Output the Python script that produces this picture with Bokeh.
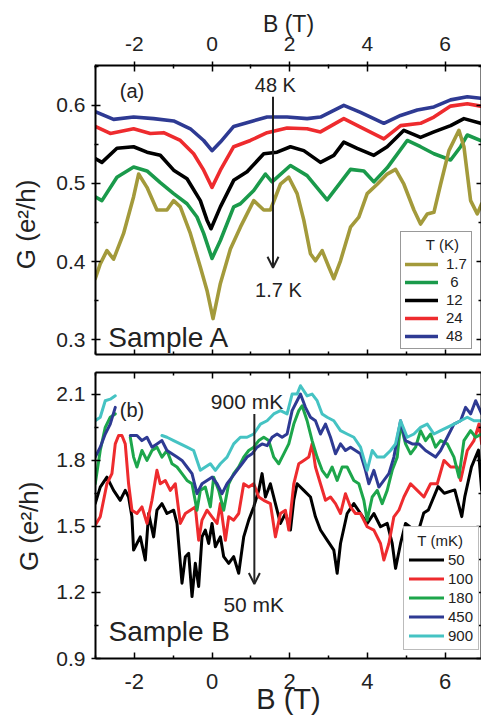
from bokeh.plotting import figure
from bokeh.models import LinearAxis, FixedTicker, Range1d, Legend, LegendItem, Label, Arrow, OpenHead
from bokeh.layouts import column
from bokeh.embed import file_html
from bokeh.resources import INLINE

nan = float("nan")

# ---------------- data: panel (a), Sample A ----------------
b_48K = [-3.007, -2.534, -2.019, -1.503, -0.988, -0.558, -0.215, 0.0, 0.215, 0.558, 0.988, 1.418, 1.933,
         2.448, 2.792, 3.393, 3.823, 4.424, 4.854, 5.284, 5.713, 6.143, 6.572, 6.916]
g_48K = [0.592, 0.582, 0.585, 0.583, 0.580, 0.570, 0.555, 0.542, 0.553, 0.573, 0.579, 0.585, 0.585,
         0.583, 0.585, 0.600, 0.591, 0.577, 0.587, 0.594, 0.598, 0.607, 0.611, 0.609]

b_24K = [-3.007, -2.62, -2.019, -1.589, -1.246, -0.816, -0.473, -0.215, 0.0, 0.215, 0.558, 0.988, 1.418,
         1.933, 2.448, 2.792, 3.393, 3.823, 4.424, 4.854, 5.369, 5.713, 6.143, 6.572, 6.916]
g_24K = [0.573, 0.564, 0.570, 0.564, 0.565, 0.555, 0.538, 0.517, 0.495, 0.517, 0.547, 0.555, 0.565,
         0.571, 0.570, 0.566, 0.583, 0.572, 0.557, 0.574, 0.577, 0.585, 0.599, 0.602, 0.599]

b_12K = [-3.007, -2.835, -2.448, -2.019, -1.675, -1.332, -0.988, -0.644, -0.301, -0.129, -0.026, 0.215,
         0.558, 0.902, 1.332, 1.675, 2.019, 2.363, 2.792, 3.136, 3.393, 3.737, 4.167, 4.510, 4.940,
         5.369, 5.713, 6.143, 6.486, 6.916]
g_12K = [0.532, 0.527, 0.545, 0.547, 0.540, 0.536, 0.517, 0.506, 0.478, 0.453, 0.442, 0.470,
         0.504, 0.515, 0.538, 0.540, 0.547, 0.542, 0.527, 0.536, 0.553, 0.545, 0.536, 0.547, 0.568,
         0.559, 0.566, 0.574, 0.583, 0.577]

b_6K = [-3.007, -2.835, -2.448, -2.019, -1.675, -1.332, -0.988, -0.644, -0.387, -0.215, 0.0, 0.215,
        0.558, 0.730, 1.074, 1.375, 1.546, 2.019, 2.448, 2.964, 3.565, 3.909, 4.167, 4.510, 5.026,
        5.369, 5.713, 6.143, 6.400, 6.572, 6.916]
g_6K = [0.483, 0.478, 0.508, 0.521, 0.516, 0.501, 0.487, 0.474, 0.457, 0.436, 0.404, 0.427,
        0.470, 0.474, 0.491, 0.512, 0.502, 0.523, 0.510, 0.479, 0.518, 0.516, 0.502, 0.520, 0.555,
        0.547, 0.538, 0.530, 0.547, 0.562, 0.555]

b_1p7K = [-3.007, -2.878, -2.706, -2.534, -2.277, -2.019, -1.890, -1.675, -1.418, -1.160, -0.988,
          -0.816, -0.558, -0.301, -0.129, 0.026, 0.215, 0.473, 0.730, 1.074, 1.332, 1.503, 1.761,
          1.976, 2.191, 2.363, 2.534, 2.663, 2.835, 3.007, 3.136, 3.308, 3.565, 3.780, 3.995, 4.253,
          4.510, 4.725, 4.940, 5.198, 5.369, 5.541, 5.713, 5.885, 6.100, 6.357, 6.486, 6.658, 6.830, 6.942]
g_1p7K = [0.378, 0.397, 0.414, 0.403, 0.436, 0.483, 0.512, 0.495, 0.466, 0.466, 0.478,
          0.470, 0.436, 0.393, 0.363, 0.327, 0.372, 0.416, 0.444, 0.478, 0.466, 0.466, 0.499,
          0.508, 0.487, 0.453, 0.410, 0.401, 0.414, 0.393, 0.378, 0.401, 0.444, 0.457, 0.487, 0.499,
          0.512, 0.518, 0.499, 0.466, 0.448, 0.461, 0.463, 0.499, 0.542, 0.568, 0.547, 0.478, 0.461, 0.474]

# ---------------- data: panel (b), Sample B ----------------
b_50 = [-3.007, -2.878, -2.706, -2.534, -2.363, -2.234, -2.148, -2.062, -2.019, -1.933, -1.847, -1.718,
        -1.632, -1.503, -1.418, -1.289, -1.160, -0.988, -0.902, -0.773, -0.687, -0.601, -0.515, -0.430,
        -0.344, -0.258, -0.172, -0.086, 0.0, 0.086, 0.215, 0.301, 0.430, 0.558, 0.687, 0.816, 0.945,
        1.074, 1.203, 1.289, 1.375, 1.503, 1.632, 1.761, 1.890, 2.019, 2.105, 2.191, 2.363, 2.534,
        2.663, 2.792, 2.964, 3.136, 3.222, 3.308, 3.479, 3.651, 3.823, 3.995, 4.167, 4.338, 4.510,
        4.639, 4.725, 4.854, 4.983, 5.30, 5.45, 5.57, 5.82, 5.98, 6.25, 6.43, 6.51, 6.68, 6.86, 6.94]
g_50 = [1.603, 1.678, 1.723, 1.663, 1.618, 1.663, 1.633, 1.543, 1.392, 1.422, 1.452, 1.347,
        1.558, 1.452, 1.573, 1.603, 1.558, 1.573, 1.513, 1.242, 1.362, 1.377, 1.181, 1.332,
        1.227, 1.452, 1.483, 1.422, 1.513, 1.407, 1.452, 1.362, 1.332, 1.362, 1.287, 1.452, 1.528,
        1.588, 1.663, 1.739, 1.633, 1.693, 1.603, 1.513, 1.558, 1.483, 1.618, 1.693, 1.663, 1.633,
        1.543, 1.483, 1.437, 1.392, 1.287, 1.422, 1.558, 1.603, 1.558, 1.513, 1.558, 1.498, 1.513,
        1.422, 1.309, 1.422, 1.513, 1.47, 1.56, 1.574, 1.68, 1.65, 1.665, 1.544, 1.636, 1.77, 1.846, 1.665]

b_100 = [-3.007, -2.878, -2.706, -2.577, -2.491, -2.405, -2.320, -2.234, -2.148, -2.062, -1.933, -1.804,
         -1.675, -1.546, -1.418, -1.332, -1.203, -1.074, -0.945, -0.816, -0.687, -0.558, -0.430, -0.344,
         -0.258, -0.129, 0.0, 0.129, 0.215, 0.344, 0.430, 0.558, 0.687, 0.816, 0.945, 1.074, 1.203,
         1.332, 1.503, 1.632, 1.761, 1.890, 1.976, 2.105, 2.234, 2.363, 2.491, 2.577, 2.663, 2.792,
         2.921, 3.050, 3.179, 3.308, 3.436, 3.565, 3.694, 3.823, 3.995, 4.167, 4.338, 4.424, 4.553,
         4.682, 4.811, 4.940, 5.112, 5.284, 5.455, 5.627, 5.799, 5.971, 6.143, 6.314, 6.400, 6.572,
         6.744, 6.873, 6.942]
g_100 = [1.505, 1.543, 1.693, 1.739, 1.874, 1.912, 1.912, 1.874, 1.693, 1.573, 1.558, 1.588,
         1.513, 1.618, 1.754, 1.693, 1.708, 1.663, 1.693, 1.513, 1.558, 1.573, 1.588, 1.437,
         1.528, 1.573, 1.543, 1.513, 1.603, 1.437, 1.543, 1.528, 1.558, 1.693, 1.678, 1.693, 1.633,
         1.618, 1.603, 1.452, 1.558, 1.573, 1.483, 1.693, 1.784, 1.799, 1.814, 1.874, 1.769, 1.693,
         1.618, 1.633, 1.603, 1.558, 1.648, 1.588, 1.558, 1.558, 1.498, 1.483, 1.422, 1.347, 1.422,
         1.543, 1.573, 1.633, 1.693, 1.663, 1.633, 1.693, 1.693, 1.799, 1.769, 1.769, 1.708, 1.844,
         1.889, 1.964, 1.874]

b_180 = [-3.007, -2.878, -2.749, -2.620, -2.491, nan, -2.105, -2.019, -1.933, -1.804, -1.675, -1.546,
         -1.418, -1.289, -1.160, -1.031, -0.902, -0.773, -0.644, -0.515, -0.387, -0.301, -0.172, -0.043,
         0.043, 0.172, 0.301, 0.430, 0.558, 0.687, 0.816, 0.945, 1.074, 1.203, 1.332, 1.460, 1.589,
         1.718, 1.847, 1.976, 2.105, 2.234, 2.320, 2.448, 2.577, 2.706, 2.835, 2.964, 3.093, 3.222,
         3.351, 3.479, 3.651, 3.780, 3.909, 3.995, 4.124, 4.253, 4.381, 4.510, 4.639, 4.768, 4.854,
         4.983, 5.112, 5.241, 5.369, 5.498, 5.627, 5.756, 5.885, 6.057, 6.229, 6.357, 6.486, 6.658,
         6.787, 6.942]
g_180 = [1.693, 1.844, 1.949, 1.995, 2.010, nan, 1.904, 1.814, 1.769, 1.844, 1.799, 1.844,
         1.859, 1.814, 1.844, 1.784, 1.769, 1.739, 1.708, 1.693, 1.573, 1.663, 1.678, 1.588,
         1.723, 1.663, 1.573, 1.693, 1.739, 1.769, 1.814, 1.844, 1.859, 1.889, 1.904, 1.889, 1.814,
         1.784, 1.829, 1.874, 1.964, 2.025, 2.047, 1.979, 1.889, 1.814, 1.754, 1.723, 1.769, 1.708,
         1.769, 1.769, 1.708, 1.693, 1.618, 1.528, 1.633, 1.663, 1.603, 1.663, 1.754, 1.814, 1.964,
         1.874, 1.829, 1.859, 1.934, 1.889, 1.919, 1.859, 1.889, 1.874, 1.814, 1.723, 1.889, 1.934,
         1.904, 1.919]

b_450 = [-3.007, -2.878, -2.749, -2.620, -2.491, nan, -2.105, -1.933, -1.804, -1.675, -1.546, -1.418,
         -1.289, -1.160, -1.031, -0.902, -0.773, -0.644, -0.515, -0.387, -0.258, -0.129, 0.0, 0.129,
         0.258, 0.387, 0.515, 0.644, 0.773, 0.902, 1.031, 1.160, 1.289, 1.418, 1.546, 1.675, 1.804,
         1.933, 2.062, 2.191, 2.277, 2.405, 2.534, 2.663, 2.792, 2.921, 3.050, 3.179, 3.308, 3.436,
         3.565, 3.694, 3.823, 3.952, 4.038, 4.167, 4.296, 4.424, 4.553, 4.682, 4.854, 4.983, 5.155,
         5.326, 5.498, 5.627, 5.756, 5.885, 6.057, 6.229, 6.400, 6.529, 6.658, 6.787, 6.942]
g_450 = [1.814, 1.859, 1.919, 1.964, 2.040, nan, 1.912, 1.912, 1.889, 1.904, 1.859, 1.874,
         1.889, 1.844, 1.829, 1.814, 1.799, 1.769, 1.739, 1.648, 1.693, 1.708, 1.723, 1.693,
         1.648, 1.693, 1.723, 1.754, 1.784, 1.814, 1.829, 1.859, 1.874, 1.866, 1.904, 1.919, 1.904,
         1.919, 2.025, 2.070, 2.100, 2.040, 1.995, 1.979, 1.919, 1.964, 1.904, 1.829, 1.874, 1.844,
         1.859, 1.844, 1.829, 1.754, 1.693, 1.754, 1.678, 1.708, 1.739, 1.814, 1.979, 1.889, 1.874,
         1.874, 1.844, 1.829, 1.814, 1.844, 1.904, 1.964, 1.979, 2.040, 2.010, 2.070, 2.010]

b_900 = [-3.007, -2.878, -2.749, -2.620, -2.491, nan, -1.289, -1.160, -0.988, -0.816, -0.644, -0.473,
         -0.301, -0.172, -0.043, 0.086, 0.215, 0.387, 0.558, 0.730, 0.902, 1.074, 1.246, 1.418, 1.589,
         1.761, 1.933, 2.062, 2.191, 2.277, 2.448, 2.577, 2.706, 2.835, 2.964, 3.136, 3.308, 3.479,
         3.651, 3.823, 3.995, 4.124, 4.253, 4.424, 4.596, 4.725, 4.854, 5.026, 5.198, 5.369, 5.541,
         5.713, 5.885, 6.057, 6.229, 6.400, 6.572, 6.744, 6.942]
g_900 = [1.979, 1.995, 2.070, 2.077, 2.092, nan, 1.912, 1.904, 1.889, 1.874, 1.859, 1.844,
         1.754, 1.769, 1.784, 1.754, 1.784, 1.814, 1.874, 1.904, 1.904, 1.919, 1.964, 1.979, 2.010,
         2.025, 2.010, 2.100, 2.100, 2.138, 2.092, 2.100, 2.070, 2.010, 1.995, 1.979, 1.934, 1.919,
         1.904, 1.859, 1.754, 1.844, 1.814, 1.814, 1.844, 1.874, 1.979, 1.904, 1.919, 1.949, 1.964,
         1.919, 1.934, 1.949, 1.964, 1.979, 1.995, 1.979, 1.979]

# ---------------- ticks / labels ----------------
x_ticks = [-2, 0, 2, 4, 6]
x_minor = [-3, -1, 1, 3, 5, 7]
x_tick_text = {-2: "-2", 0: "0", 2: "2", 4: "4", 6: "6"}
ya_ticks = [0.3, 0.4, 0.5, 0.6]
ya_minor = [0.35, 0.45, 0.55, 0.65]
yb_ticks = [0.9, 1.2, 1.5, 1.8, 2.1]
yb_minor = [1.05, 1.35, 1.65, 1.95]

series_a = [("48", b_48K, g_48K, "#2E3A93"),
            ("24", b_24K, g_24K, "#EE2B2E"),
            ("12", b_12K, g_12K, "#000000"),
            ("\u00a06", b_6K, g_6K, "#1A9A4B"),
            ("1.7", b_1p7K, g_1p7K, "#A39A3B")]
series_b = [("50", b_50, g_50, "#000000"),
            ("100", b_100, g_100, "#EE2B2E"),
            ("180", b_180, g_180, "#1DA64B"),
            ("450", b_450, g_450, "#2E3A93"),
            ("900", b_900, g_900, "#45C3C3")]

FONT = "Liberation Sans"
TXT = "#222222"
NB = "\u00a0"


def cfg_axis(ax, major, minor, labels, tin, tout, size="21px", standoff=5):
    ax.ticker = FixedTicker(ticks=major, minor_ticks=minor)
    ax.axis_line_width = 2
    ax.axis_line_color = "black"
    ax.major_tick_in = tin
    ax.major_tick_out = tout
    ax.minor_tick_in = 3
    ax.minor_tick_out = 1 if tout else 0
    ax.major_tick_line_width = 1.5
    ax.minor_tick_line_width = 1.5
    ax.major_tick_line_color = "black"
    ax.minor_tick_line_color = "black"
    ax.major_label_text_font = FONT
    ax.axis_label_text_font = FONT
    ax.axis_label_text_color = TXT
    ax.axis_label_text_font_style = "normal"
    if labels:
        ax.major_label_text_color = TXT
        ax.major_label_text_font_size = size
        ax.major_label_standoff = standoff
    else:
        ax.major_label_text_color = None
        ax.major_label_text_font_size = "1px"
        ax.major_label_standoff = 0


def add_label(p, x, y, text, size, align="center"):
    p.add_layout(Label(x=x, y=y, text=text, text_align=align, text_baseline="alphabetic",
                       text_font=FONT, text_font_size=size, text_color=TXT))


W = 481
X_END = 6.938

# ---------------- panel (a) ----------------
p1 = figure(width=W, height=363, x_range=Range1d(-3.0, X_END), y_range=Range1d(0.281, 0.651),
            x_axis_location="above", output_backend="svg", toolbar_location=None,
            min_border_left=95, min_border_right=0, min_border_top=65, min_border_bottom=9,
            background_fill_color="white", border_fill_color="white")
p1.outline_line_color = None
p1.xgrid.visible = False
p1.ygrid.visible = False

cfg_axis(p1.xaxis[0], x_ticks, x_minor, True, 6, 4, "21px", 11)
p1.xaxis[0].major_label_overrides = x_tick_text
p1.xaxis[0].axis_label = "B (T)"
p1.xaxis[0].axis_label_text_font_size = "23px"
p1.xaxis[0].axis_label_standoff = -3
cfg_axis(p1.yaxis[0], ya_ticks, ya_minor, True, 5, 4, "21px", 6)
p1.yaxis[0].axis_label = "G (e\u00b2/h)" + NB * 4
p1.yaxis[0].axis_label_text_font_size = "26px"
p1.yaxis[0].axis_label_standoff = 12
ax = LinearAxis()
cfg_axis(ax, x_ticks, x_minor, False, 5, 0)
p1.add_layout(ax, "below")
ax = LinearAxis()
cfg_axis(ax, ya_ticks, ya_minor, False, 5, 0)
p1.add_layout(ax, "right")

rend_a = {}
for lab, xs, ys, col in series_a:
    rend_a[lab] = p1.line(xs, ys, line_color=col, line_width=3.6, line_join="round", line_cap="round")

leg_a = Legend(items=[LegendItem(label=l, renderers=[rend_a[l]]) for l in ["1.7", "\u00a06", "12", "24", "48"]],
               location=(305, 5), title=NB * 5 + "T (K)", padding=4, spacing=1, margin=0,
               glyph_width=33, glyph_height=16, label_height=16, label_standoff=8,
               label_text_font=FONT, label_text_font_size="15px", label_text_color=TXT,
               title_text_font=FONT, title_text_font_size="15px", title_text_font_style="normal",
               title_text_color=TXT, title_standoff=2,
               border_line_color="#333333", border_line_width=1,
               background_fill_color="white", background_fill_alpha=1.0)
p1.add_layout(leg_a)

add_label(p1, -2.06, 0.6178, "(a)", "20px")
add_label(p1, 1.63, 0.6262, "48 K", "20px")
add_label(p1, 1.71, 0.3637, "1.7 K", "20px")
add_label(p1, -2.67, 0.3033, "Sample A", "28px", "left")
p1.add_layout(Arrow(x_start=1.57, y_start=0.611, x_end=1.57, y_end=0.392, line_width=2,
                    line_color="#222222",
                    end=OpenHead(size=11, line_width=2, line_color="#222222")))

# ---------------- panel (b) ----------------
p2 = figure(width=W, height=354, x_range=Range1d(-3.0, X_END), y_range=Range1d(0.9, 2.198),
            output_backend="svg", toolbar_location=None,
            min_border_left=95, min_border_right=0, min_border_top=9, min_border_bottom=58,
            background_fill_color="white", border_fill_color="white")
p2.outline_line_color = None
p2.xgrid.visible = False
p2.ygrid.visible = False

cfg_axis(p2.xaxis[0], x_ticks, x_minor, True, 6, 0, "22px", 15)
p2.xaxis[0].major_label_overrides = x_tick_text
p2.xaxis[0].axis_label = "B (T)"
p2.xaxis[0].axis_label_text_font_size = "29px"
p2.xaxis[0].axis_label_standoff = -9
cfg_axis(p2.yaxis[0], yb_ticks, yb_minor, True, 5, 4, "21px", 6)
p2.yaxis[0].axis_label = "G (e\u00b2/h)" + NB * 3
p2.yaxis[0].axis_label_text_font_size = "26px"
p2.yaxis[0].axis_label_standoff = 9
ax = LinearAxis()
cfg_axis(ax, x_ticks, x_minor, False, 6, 0)
p2.add_layout(ax, "above")
ax = LinearAxis()
cfg_axis(ax, yb_ticks, yb_minor, False, 5, 0)
p2.add_layout(ax, "right")

rend_b = {}
for lab, xs, ys, col in series_b:
    rend_b[lab] = p2.line(xs, ys, line_color=col, line_width=3.0, line_join="round", line_cap="round")

leg_b = Legend(items=[LegendItem(label=l, renderers=[rend_b[l]]) for l in ["50", "100", "180", "450", "900"]],
               location=(308, 8), title=NB * 2 + "T (mK)", padding=5, spacing=2, margin=0,
               glyph_width=35, glyph_height=17, label_height=17, label_standoff=4,
               label_text_font=FONT, label_text_font_size="15px", label_text_color=TXT,
               title_text_font=FONT, title_text_font_size="15px", title_text_font_style="normal",
               title_text_color=TXT, title_standoff=2,
               border_line_color="#777777", border_line_width=1,
               background_fill_color="white", background_fill_alpha=1.0)
p2.add_layout(leg_b)

add_label(p2, -2.06, 2.0276, "(b)", "20px")
add_label(p2, 0.90, 2.0663, "900 mK", "21px")
add_label(p2, 1.074, 1.1433, "50 mK", "21px")
add_label(p2, -2.663, 1.0232, "Sample B", "28px", "left")
p2.add_layout(Arrow(x_start=1.09, y_start=2.01, x_end=1.09, y_end=1.238, line_width=2,
                    line_color="#222222",
                    end=OpenHead(size=11, line_width=2, line_color="#222222")))

layout = column(p1, p2, spacing=0)
open("out.html", "w").write(file_html(layout, INLINE))
